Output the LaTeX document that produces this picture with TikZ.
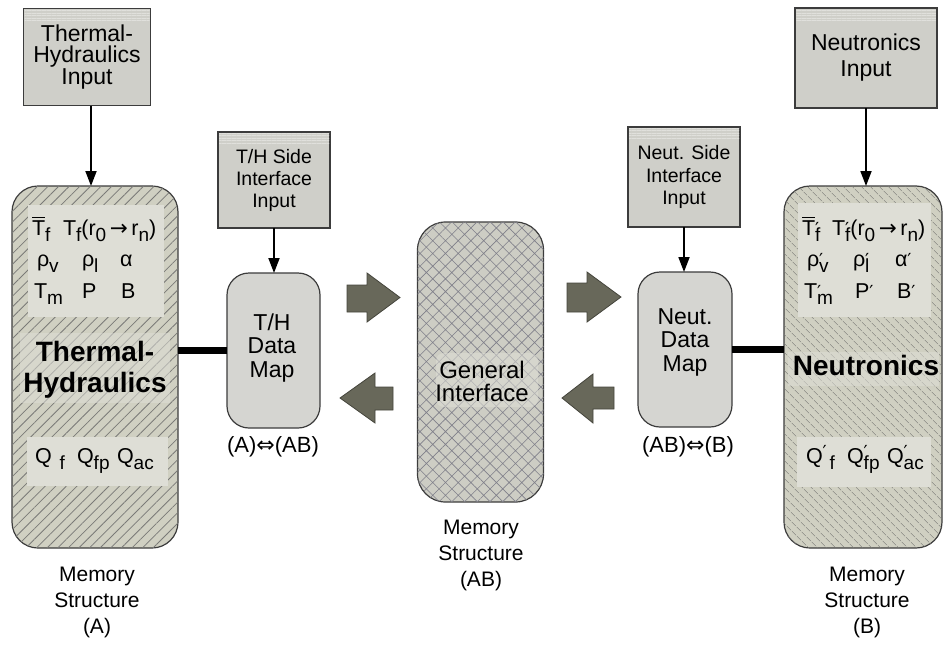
\documentclass[tikz,border=0pt]{standalone}
\usepackage{fontspec}
\setmainfont{Liberation Sans}
\newfontfamily\symfont{DejaVu Sans}
\usetikzlibrary{arrows.meta,patterns.meta}

\definecolor{edge}{HTML}{3C3C3C}
\definecolor{inputfill}{HTML}{CFCFC9}
\definecolor{mapfill}{HTML}{D5D5D1}
\definecolor{memfill}{HTML}{D0D0C2}
\definecolor{hatchline}{HTML}{7A7A78}
\definecolor{panelfill}{HTML}{DEDED6}
\definecolor{gifill}{HTML}{CDCDC4}
\definecolor{gihatch}{HTML}{80808A}
\definecolor{blockfill}{HTML}{68685A}
\definecolor{blockedge}{HTML}{45453C}

\newcommand\fsz[2]{\fontsize{#1}{#2}\selectfont}
% lowered subscript, prime, barred T and arrows used in the symbol tables
\newcommand\tsub[1]{\raisebox{-0.3em}{\fsz{19}{19}#1}}
\newcommand\tprime[1][0pt]{\rlap{\raisebox{#1}{\fsz{18}{18}\symfont ′}}}
\newcommand\tbar{\rlap{\raisebox{0.78em}{\rule{0.6em}{1.4pt}}}T}
\newcommand\tto{{\symfont →}}
\newcommand\tiff{{\symfont ⇔}}

\begin{document}
\begin{tikzpicture}[x=1pt,y=-1pt,
  every node/.style={inner sep=0pt,outer sep=0pt},
  inbox/.style={draw=edge,line width=1.2pt,fill=inputfill,align=center},
  mapbox/.style={draw=edge,line width=1.2pt,fill=mapfill,rounded corners=22pt},
  membox/.style={draw=edge,line width=1.2pt,fill=memfill,rounded corners=26pt},
  panel/.style={fill=panelfill},
  sym/.style={anchor=base west,font=\fsz{21.5}{21.5}},
  caption/.style={align=center,font=\fsz{21}{26}},
  biglabel/.style={align=center,font={\bfseries\fsz{28}{31}}},
  conn/.style={line width=1.8pt,-{Triangle[length=15pt,width=11pt]}},
  link/.style={line width=6.5pt},
  block/.style={fill=blockfill,draw=blockedge,line width=0.8pt,line join=miter}
]
\useasboundingbox (0,0) rectangle (945,648);

% ---------- input boxes ----------
\node[inbox,minimum width=127pt,minimum height=97pt,font=\fsz{23}{21.5}] (thin) at (87,57)
  {Thermal-\\Hydraulics\\Input};
\node[inbox,minimum width=142pt,minimum height=100pt,font=\fsz{23}{26}] (ninp) at (866,58)
  {Neutronics\\Input};
\node[inbox,minimum width=112pt,minimum height=96pt,font=\fsz{19.5}{22}] (thside) at (274,180)
  {T/H Side\\Interface\\Input};
\node[inbox,minimum width=112pt,minimum height=100pt,font=\fsz{19.5}{22.5}] (nside) at (684,177)
  {Neut. Side\\Interface\\Input};
% faint striped band along the top of each input box
\foreach \b in {thin,ninp,thside,nside}{
  \fill[pattern={Lines[angle=0,distance=2.5pt,line width=0.7pt]},pattern color=white!35!inputfill]
    ([shift={(1,1)}]\b.north west) rectangle ([shift={(-1,12)}]\b.north east);
}

% ---------- memory structures ----------
\node[membox,minimum width=166pt,minimum height=362pt,
  postaction={pattern={Lines[angle=45,distance=7.5pt,line width=0.8pt]},pattern color=hatchline}]
  (thbox) at (95,367) {};
\node[membox,minimum width=158pt,minimum height=362pt,
  postaction={pattern={Lines[angle=-45,distance=6.5pt,line width=0.55pt]},pattern color=hatchline}]
  (nbox) at (863,367) {};
\node[draw=edge,line width=1.2pt,fill=gifill,rounded corners=28pt,minimum width=126pt,minimum height=280pt,
  postaction={pattern={Hatch[angle=45,distance=9pt,line width=0.6pt]},pattern color=gihatch}]
  (gi) at (480.5,362) {};

% data maps
\node[mapbox,minimum width=93pt,minimum height=155pt] (thmap) at (273.5,350.5) {};
\node[mapbox,minimum width=94pt,minimum height=155pt] (nmap) at (685,349.5) {};
\node[align=center,font=\fsz{23}{23.5}] (thmaptxt) at (272,348) {T/H\\Data\\Map};
\node[align=center,font=\fsz{23}{23.5}] (nmaptxt) at (685,342) {Neut.\\Data\\Map};

% general interface
\fill[panelfill,opacity=0.55,rounded corners=8pt] (436,353) rectangle (538,407);
\node[align=center,font=\fsz{24}{23}] (gitxt) at (482,381) {General\\Interface};

% ---------- thermal-hydraulics contents ----------
\fill[panel] (28,205) rectangle (164,317);
\fill[panelfill,opacity=0.55] (20,333) rectangle (170,403);
\fill[panel] (27,437) rectangle (168,486);
\node[sym] (a1) at (32,235) {\tbar\tsub{f}};
\node[sym] (a2) at (63,235) {T\tsub{f}(r\tsub{0}\,\tto\,r\tsub{n})};
\node[sym] (a3) at (37,266) {ρ\tsub{v}};
\node[sym] (a4) at (82,266) {ρ\tsub{l}};
\node[sym] (a5) at (120,266) {α};
\node[sym] (a6) at (34,298) {T\tsub{m}};
\node[sym] (a7) at (82,298) {P};
\node[sym] (a8) at (121,298) {B};
\node[biglabel,anchor=north] (thlabel) at (95,341.5) {Thermal-\\Hydraulics};
\node[sym] (a9) at (35,463) {Q\hspace{8pt}\tsub{f}};
\node[sym] (a10) at (77,463) {Q\tsub{fp}};
\node[sym] (a11) at (117,463) {Q\tsub{ac}};

% ---------- neutronics contents ----------
\fill[panel] (798,203) rectangle (931,317);
\fill[panelfill,opacity=0.55] (788,352) rectangle (939,386);
\fill[panel] (797,437) rectangle (931,487);
\node[sym] (b1) at (802,235) {\tbar\tprime\tsub{f}};
\node[sym] (b2) at (832,235) {T\tprime\tsub{f}(r\tsub{0}\,\tto\,r\tsub{n})};
\node[sym] (b3) at (807,266) {ρ\tprime\tsub{v}};
\node[sym] (b4) at (853,266) {ρ\tprime\tsub{l}};
\node[sym] (b5) at (895,266) {α\tprime};
\node[sym] (b6) at (804,298) {T\tprime\tsub{m}};
\node[sym] (b7) at (855,298) {P\tprime};
\node[sym] (b8) at (897,298) {B\tprime};
\node[biglabel,anchor=base] (nlabel) at (866,375) {Neutronics};
\node[sym] (b9) at (806,463) {Q\tprime[5pt]\hspace{7pt}\tsub{f}};
\node[sym] (b10) at (847,463) {Q\tprime[5pt]\tsub{fp}};
\node[sym] (b11) at (887,463) {Q\tprime[5pt]\tsub{ac}};

% ---------- connectors ----------
\draw[conn] ([xshift=4pt]thin.south) -- ([xshift=4pt]thin.south |- thbox.north);
\draw[conn] (ninp.south) -- (ninp.south |- nbox.north);
\draw[conn] (thside.south) -- (thside.south |- thmap.north);
\draw[conn] (nside.south) -- (nside.south |- nmap.north);
\draw[link] (thmap.west) -- (thmap.west -| thbox.east);
\draw[link] (nmap.east) -- (nmap.east -| nbox.west);

% block arrows between the data maps and the general interface
\draw[block] (347,285) -- (367,285) -- (367,273) -- (400,297.5) -- (367,322) -- (367,312) -- (347,312) -- cycle;
\draw[block] (393,387) -- (375,387) -- (375,373) -- (340,398) -- (375,423) -- (375,410) -- (393,410) -- cycle;
\draw[block] (567,283) -- (587,283) -- (587,272) -- (621,297) -- (587,322) -- (587,312) -- (567,312) -- cycle;
\draw[block] (614,387) -- (593,387) -- (593,374) -- (562,398) -- (593,423) -- (593,409) -- (614,409) -- cycle;

% ---------- captions ----------
\node[anchor=base,font=\fsz{22}{22}] (thmapcap) at (273,452) {(A)\tiff(AB)};
\node[anchor=base,font=\fsz{22}{22}] (nmapcap) at (688,452) {(AB)\tiff(B)};
\node[caption,anchor=north] (capA) at (97,567) {Memory\\Structure\\(A)};
\node[caption,anchor=north] (capAB) at (481,520) {Memory\\Structure\\(AB)};
\node[caption,anchor=north] (capB) at (867,567) {Memory\\Structure\\(B)};
\end{tikzpicture}
\end{document}
